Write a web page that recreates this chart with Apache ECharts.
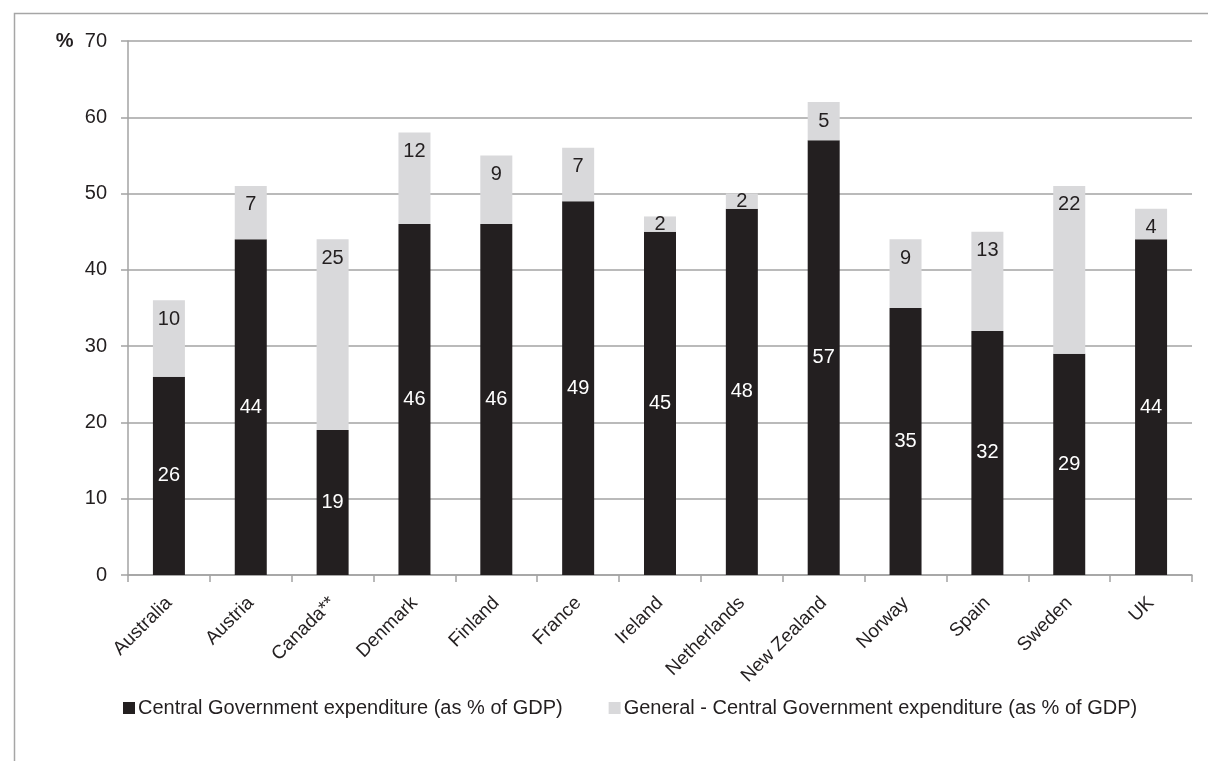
<!DOCTYPE html>
<html>
<head>
<meta charset="utf-8">
<script src="https://cdn.jsdelivr.net/npm/echarts@6/dist/echarts.min.js"></script>
<style>
  html, body { margin: 0; padding: 0; background: #ffffff; }
  #chart { width: 1208px; height: 761px; }
</style>
</head>
<body>
<div id="chart"></div>
<script>
// Countries shown along the category axis
const countries = ['Australia', 'Austria', 'Canada**', 'Denmark', 'Finland', 'France',
  'Ireland', 'Netherlands', 'New Zealand', 'Norway', 'Spain', 'Sweden', 'UK'];

// Central government expenditure, % of GDP
const centralExp = [26, 44, 19, 46, 46, 49, 45, 48, 57, 35, 32, 29, 44];

// General minus central government expenditure, % of GDP
const generalMinusCentral = [10, 7, 25, 12, 9, 7, 2, 2, 5, 9, 13, 22, 4];

const seriesNames = [
  'Central Government expenditure (as % of GDP)',
  'General - Central Government expenditure (as % of GDP)'
];

const FONT = '"Liberation Sans", Arial, sans-serif';
const TEXT = '#231f20';
const GRID_GREY = '#a3a3a3';

// Thin top segments get their value centred instead of pinned to the top edge
const topSegmentData = generalMinusCentral.map(v => (
  v <= 2 ? { value: v, label: { position: 'inside' } } : v
));

const chart = echarts.init(document.getElementById('chart'), null, { renderer: 'canvas' });

chart.setOption({
  backgroundColor: '#ffffff',
  animation: false,
  textStyle: { fontFamily: FONT },
  graphic: [{
    type: 'rect',
    left: 12, top: 11,
    shape: { width: 1300, height: 900 },
    style: { fill: 'none', stroke: '#a6a6a6', lineWidth: 1.5 },
    silent: true
  }],
  grid: { left: 128, right: 16, top: 41, bottom: 186, containLabel: false },
  legend: {
    left: 118, top: 693,
    itemWidth: 12, itemHeight: 12, itemGap: 46,
    icon: 'rect',
    textStyle: { fontFamily: FONT, fontSize: 20, color: TEXT, padding: [0, 0, 0, -2] },
    data: seriesNames
  },
  xAxis: {
    type: 'category',
    data: countries,
    axisLine: { lineStyle: { color: GRID_GREY, width: 1.5 } },
    axisTick: { show: true, length: 7, alignWithLabel: false, lineStyle: { color: GRID_GREY, width: 1.5 } },
    axisLabel: { rotate: 45, color: TEXT, fontFamily: FONT, fontSize: 19, margin: 25, interval: 0 }
  },
  yAxis: {
    type: 'value',
    min: 0, max: 70, interval: 10,
    axisLine: { show: true, lineStyle: { color: GRID_GREY, width: 1.5 } },
    axisTick: { show: true, length: 7, lineStyle: { color: GRID_GREY, width: 1.5 } },
    splitLine: { lineStyle: { color: GRID_GREY, width: 1.5 } },
    axisLabel: {
      color: TEXT, fontFamily: FONT, fontSize: 20, margin: 21,
      formatter: v => v === 70 ? '{p|%}  70' : String(v),
      rich: { p: { fontWeight: 'bold', fontFamily: FONT, fontSize: 20, color: TEXT } }
    }
  },
  series: [
    {
      name: seriesNames[0],
      type: 'bar',
      stack: 'total',
      data: centralExp,
      barWidth: 32,
      itemStyle: { color: '#231f20' },
      label: {
        show: true, position: 'inside', color: '#ffffff',
        fontFamily: FONT, fontSize: 20
      }
    },
    {
      name: seriesNames[1],
      type: 'bar',
      stack: 'total',
      data: topSegmentData,
      barWidth: 32,
      itemStyle: { color: '#d9d9db' },
      label: {
        show: true, position: 'insideTop', distance: 9, color: TEXT,
        fontFamily: FONT, fontSize: 20
      }
    }
  ]
});
</script>
</body>
</html>
